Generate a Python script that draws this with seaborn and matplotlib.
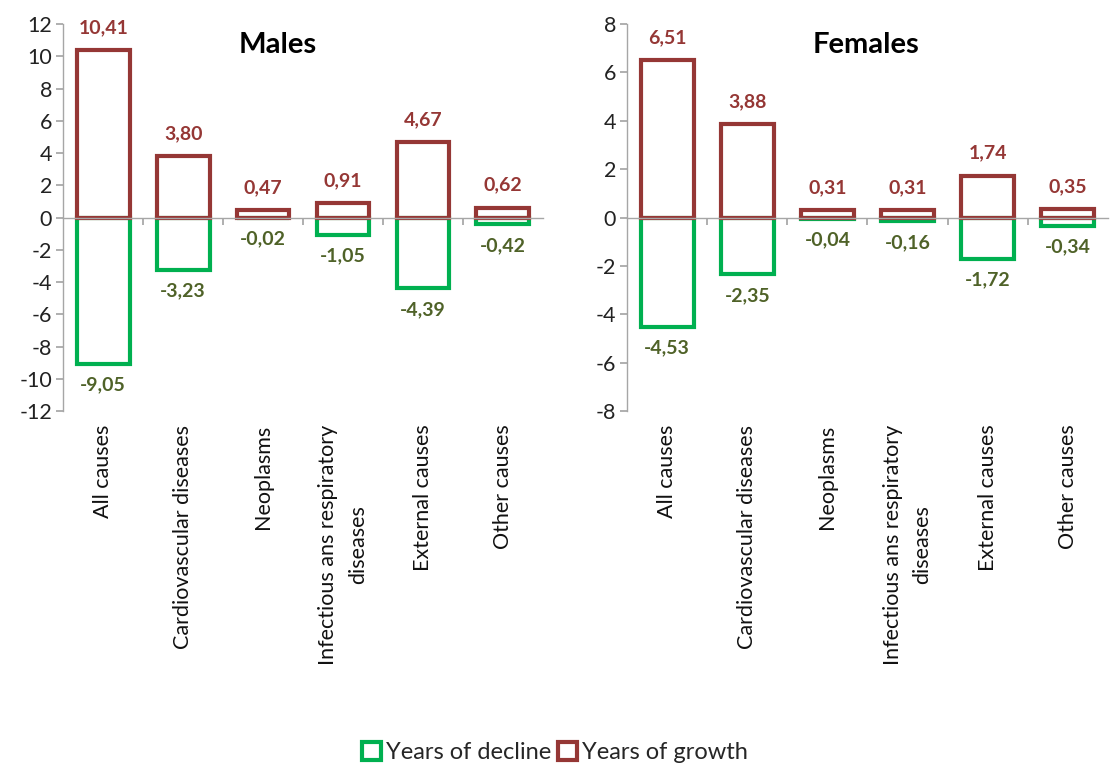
import matplotlib
matplotlib.use("Agg")
import matplotlib.pyplot as plt
import matplotlib.transforms as mtransforms
from matplotlib.patches import Patch
import pandas as pd
import seaborn as sns

# Contributions of causes of death to life expectancy change (years)
causes = ["All causes", "Cardiovascular diseases", "Neoplasms",
          "Infectious ans respiratory\ndiseases", "External causes", "Other causes"]
males_growth = [10.41, 3.80, 0.47, 0.91, 4.67, 0.62]
males_decline = [-9.05, -3.23, -0.02, -1.05, -4.39, -0.42]
females_growth = [6.51, 3.88, 0.31, 0.31, 1.74, 0.35]
females_decline = [-4.53, -2.35, -0.04, -0.16, -1.72, -0.34]
series_names = ["Years of decline", "Years of growth"]

GROWTH = "#953735"
DECLINE = "#00B050"
DECLINE_TXT = "#4F6228"
AXIS_GREY = "#A6A6A6"

sns.set_theme(style="white")
plt.rcParams["font.family"] = ["Lato", "DejaVu Sans"]
plt.rcParams["axes.unicode_minus"] = False


def fmt(v):
    return f"{v:.2f}".replace(".", ",")


def panel(ax, growth, decline, title, lim):
    df = pd.DataFrame({
        "cause": causes * 2,
        "value": list(decline) + list(growth),
        "series": [series_names[0]] * len(causes) + [series_names[1]] * len(causes),
    })
    sns.barplot(data=df, x="cause", y="value", hue="series", dodge=False,
                fill=False, palette=[DECLINE, GROWTH], linewidth=3.0,
                width=0.66, legend=False, ax=ax, errorbar=None)
    ax.set_ylim(-lim, lim)
    ax.set_xlim(-0.5, len(causes) - 0.5)
    ax.set_yticks(range(-lim, lim + 1, 2))
    ax.set_ylabel("")
    ax.set_xlabel("")
    for side in ("top", "right"):
        ax.spines[side].set_visible(False)
    ax.spines["left"].set_color(AXIS_GREY)
    ax.spines["bottom"].set_color(AXIS_GREY)
    ax.spines["bottom"].set_position(("data", 0))
    ax.spines["left"].set_linewidth(1.0)
    ax.spines["bottom"].set_linewidth(1.0)
    ax.tick_params(axis="y", direction="out", length=5, color=AXIS_GREY,
                   labelsize=15.5, labelcolor="#222222", left=True, pad=3)
    ax.set_xticks([i + 0.5 for i in range(len(causes) - 1)])
    ax.set_xticklabels([])
    ax.tick_params(axis="x", direction="out", length=5, color=AXIS_GREY, bottom=True)

    # category names along the bottom edge of the plotting area
    trans = mtransforms.blended_transform_factory(ax.transData, ax.transAxes)
    for i, name in enumerate(causes):
        ax.text(i, -0.035, name, transform=trans, rotation=90, ha="center",
                va="top", multialignment="center", fontsize=15.5, color="#111111",
                linespacing=1.6)

    for i, v in enumerate(growth):
        ax.annotate(fmt(v), (i, v), xytext=(0, 10), textcoords="offset points",
                    ha="center", va="bottom", fontsize=14, fontweight="bold",
                    color=GROWTH)
    for i, v in enumerate(decline):
        ax.annotate(fmt(v), (i, v), xytext=(0, -9), textcoords="offset points",
                    ha="center", va="top", fontsize=14, fontweight="bold",
                    color=DECLINE_TXT)
    ax.text(title[1], 0.945, title[0], transform=ax.transAxes, ha="center",
            va="center", fontsize=21, fontweight="bold", color="#000000")


fig = plt.figure(figsize=(11.10, 7.67), dpi=100)
ax_m = fig.add_axes([0.057, 0.464, 0.432, 0.5046])
ax_f = fig.add_axes([0.565, 0.464, 0.433, 0.5046])

panel(ax_m, males_growth, males_decline, ("Males", 0.448), 12)
panel(ax_f, females_growth, females_decline, ("Females", 0.497), 8)

handles = [Patch(facecolor="white", edgecolor=DECLINE, linewidth=3.0, label=series_names[0]),
           Patch(facecolor="white", edgecolor=GROWTH, linewidth=3.0, label=series_names[1])]
fig.legend(handles=handles, loc="center", bbox_to_anchor=(0.5, 0.019), ncol=2,
           frameon=False, fontsize=17, handlelength=0.8, handleheight=0.8,
           handletextpad=0.2, columnspacing=0.3)

fig.savefig("out.png", dpi=100, facecolor="white")
